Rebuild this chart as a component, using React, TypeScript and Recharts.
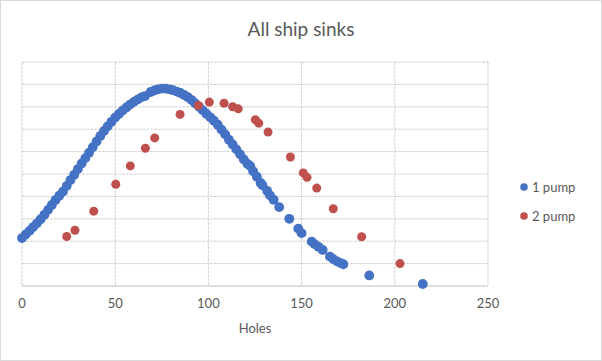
import { ScatterChart, Scatter, XAxis, YAxis, CartesianGrid } from 'recharts';

// Holes vs sink value
const onePumpHoles = [
  0, 2, 4, 6, 8, 10, 12, 14, 16, 18, 20, 22, 24, 26, 28, 30, 32, 34, 36, 38, 40,
  42, 44, 46, 48, 50, 52, 54, 56, 58, 60, 62, 64, 66,
  69, 71, 73, 75, 77, 79, 81, 83, 85, 87, 89, 91, 93, 95, 97, 99, 101, 103, 105,
  107, 109, 111, 113, 115, 117, 119, 121, 122.5,
  124, 126, 128, 129, 131.5, 133, 135, 138, 143.4, 148.2, 150,
  155.4, 157, 159, 161.3, 165.2, 167, 169, 171, 172.4, 186.3, 215,
];
const onePumpValues = [
  2.14, 2.3, 2.46, 2.63, 2.8, 2.98, 3.18, 3.4, 3.62, 3.84, 4.03, 4.22, 4.47, 4.73, 4.97, 5.22, 5.47, 5.71, 5.95, 6.2, 6.45,
  6.7, 6.92, 7.13, 7.33, 7.52, 7.68, 7.83, 7.97, 8.1, 8.22, 8.32, 8.42, 8.48,
  8.66, 8.73, 8.78, 8.81, 8.81, 8.78, 8.74, 8.68, 8.62, 8.53, 8.43, 8.3, 8.15, 8.0, 7.84, 7.68, 7.53, 7.38, 7.2,
  6.98, 6.77, 6.53, 6.32, 6.1, 5.88, 5.65, 5.45, 5.35,
  5.12, 4.88, 4.6, 4.5, 4.25, 4.05, 3.85, 3.52, 3.0, 2.56, 2.36,
  1.98, 1.87, 1.75, 1.61, 1.31, 1.2, 1.1, 1.02, 0.97, 0.47, 0.09,
];

const twoPumpHoles = [
  24, 28.4, 38.5, 50.3, 58.1, 66.2, 71.2, 84.8, 94.6, 100.5, 108.4, 113, 116,
  125.2, 127, 132, 144, 150.9, 152.9, 158.1, 167, 182.2, 202.8,
];
const twoPumpValues = [
  2.21, 2.49, 3.34, 4.54, 5.36, 6.15, 6.61, 7.66, 8.06, 8.21, 8.16, 8.0, 7.91,
  7.42, 7.27, 6.87, 5.76, 5.05, 4.85, 4.37, 3.45, 2.2, 1.0,
];

const xTicks = [0, 50, 100, 150, 200, 250];
const yTicks = [0, 1, 2, 3, 4, 5, 6, 7, 8, 9, 10];

const onePump = onePumpHoles.map((h, i) => ({ holes: h, value: onePumpValues[i] }));
const twoPump = twoPumpHoles.map((h, i) => ({ holes: h, value: twoPumpValues[i] }));

const BLUE = '#4472C4';
const RED = '#C0504D';
const FONT = 'Lato, "Noto Sans", sans-serif';

const legendItems = [
  { name: '1 pump', color: BLUE },
  { name: '2 pump', color: RED },
];

const dot = (r: number, color: string) => (p: any) => <circle cx={p.cx} cy={p.cy} r={r} fill={color} />;

export default function App() {
  return (
    <div style={{
      position: 'absolute', left: 0, top: 0, width: 602, height: 361,
      boxSizing: 'border-box', border: '1px solid #D9D9D9', background: '#fff',
    }}>
      <div style={{
        position: 'absolute', left: 0, top: 16, width: 600, textAlign: 'center',
        fontFamily: FONT, fontSize: 19, color: '#595959',
      }}>
        All ship sinks
      </div>
      <div style={{ position: 'absolute', left: -1, top: -1 }}>
        <ScatterChart width={602} height={361} margin={{ top: 62, right: 114, bottom: 25, left: 22 }}>
          <CartesianGrid stroke="#D0D0D0" strokeDasharray="3 1" horizontalValues={yTicks} verticalValues={xTicks} />
          <XAxis
            type="number" dataKey="holes" domain={[0, 250]} ticks={xTicks} interval={0}
            axisLine={{ stroke: '#D0D0D0' }} tickLine={false} tickMargin={7} height={50}
            tick={{ fill: '#595959', fontSize: 13, fontFamily: FONT }}
            label={{ value: 'Holes', position: 'insideBottom', offset: 3, fill: '#595959', fontSize: 13, fontFamily: FONT }}
          />
          <YAxis
            type="number" dataKey="value" domain={[0, 10]} ticks={yTicks} interval={0}
            width={0} tick={() => <g />} axisLine={false} tickLine={false}
          />
          <Scatter name="1 pump" data={onePump} fill={BLUE} shape={dot(4.9, BLUE)} isAnimationActive={false} />
          <Scatter name="2 pump" data={twoPump} fill={RED} shape={dot(4.5, RED)} isAnimationActive={false} />
        </ScatterChart>
      </div>
      {/* legend on the right */}
      <div style={{ position: 'absolute', left: 518, top: 171, fontFamily: FONT, fontSize: 13, color: '#595959' }}>
        {legendItems.map(d => (
          <div key={d.name} style={{ display: 'flex', alignItems: 'center', height: 29 }}>
            <svg width={10} height={10} style={{ marginRight: 3 }}>
              <circle cx={5} cy={5} r={3.8} fill={d.color} />
            </svg>
            <span>{d.name}</span>
          </div>
        ))}
      </div>
    </div>
  );
}
